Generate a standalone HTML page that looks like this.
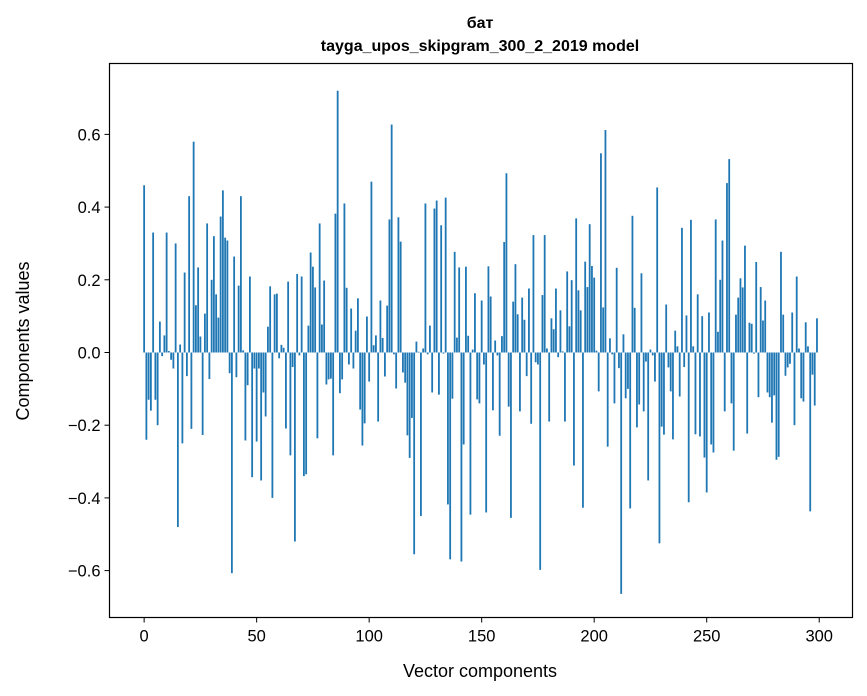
<!DOCTYPE html>
<html><head><meta charset="utf-8"><style>
html,body{margin:0;padding:0;background:#fff;}
svg{display:block;font-family:"Liberation Sans","DejaVu Sans",sans-serif;}
</style></head><body>
<svg id="chart" width="867" height="696" viewBox="0 0 867 696" xmlns="http://www.w3.org/2000/svg">
<rect x="0" y="0" width="867" height="696" fill="#fff"/>
<text x="480" y="28" text-anchor="middle" font-size="16" font-weight="bold">бат</text>
<text x="480" y="51" text-anchor="middle" font-size="16" font-weight="bold">tayga_upos_skipgram_300_2_2019 model</text>
<g id="bars"></g>
<g id="xticks"></g>
<g id="yticks"></g>
<rect x="109.5" y="63.5" width="743" height="554" fill="none" stroke="#000" stroke-width="1.2"/>
<text x="480" y="677" text-anchor="middle" font-size="18">Vector components</text>
<text x="0" y="0" transform="translate(29,341) rotate(-90)" text-anchor="middle" font-size="18">Components values</text>
</svg>
<script>
const values = [0.46,-0.24,-0.13,-0.16,0.33,-0.13,-0.20,0.085,-0.01,0.047,
0.33,0.004,-0.02,-0.044,0.30,-0.48,0.022,-0.25,0.22,-0.065,
0.43,-0.21,0.58,0.13,0.234,0.044,-0.227,0.107,0.355,-0.073,
0.20,0.32,0.16,0.096,0.374,0.446,0.316,0.308,-0.057,-0.607,
0.264,-0.068,0.184,0.43,0.006,-0.242,-0.09,0.209,-0.343,-0.044,
-0.245,-0.044,-0.352,-0.11,-0.176,0.071,0.182,-0.40,0.16,0.162,
-0.016,0.021,0.013,-0.209,0.195,-0.283,-0.04,-0.52,0.216,-0.008,
0.209,-0.34,-0.335,0.074,0.275,0.236,0.179,-0.236,0.355,0.077,
0.198,-0.088,-0.074,-0.072,-0.283,0.382,0.72,-0.112,-0.074,0.41,
0.178,-0.033,0.121,-0.044,0.06,0.149,-0.157,-0.256,-0.195,0.099,
-0.08,0.47,0.02,0.047,-0.19,0.143,0.04,-0.066,0.129,0.366,
0.627,-0.005,-0.099,0.372,0.305,-0.055,-0.083,-0.228,-0.29,-0.18,
-0.555,0.03,0.002,-0.45,0.011,0.41,-0.005,0.074,-0.11,0.396,
0.418,-0.116,0.35,-0.003,0.426,-0.418,-0.569,-0.127,0.277,0.041,
0.234,-0.575,-0.253,0.236,0.046,-0.446,0.008,0.163,-0.129,-0.14,
0.143,-0.033,-0.44,0.237,0.154,-0.159,0.033,-0.008,-0.229,0.045,
0.304,0.493,-0.149,-0.455,0.14,0.243,0.105,-0.162,0.151,0.09,
-0.065,0.176,-0.196,0.323,-0.027,-0.033,-0.598,0.158,0.323,0.011,
-0.19,0.094,0.064,0.176,-0.013,0.116,0.003,-0.19,0.223,0.072,
0.199,-0.311,0.369,0.171,0.116,-0.427,0.25,0.18,0.353,0.238,
0.206,0.005,-0.107,0.548,0.124,0.612,-0.259,0.039,-0.005,-0.14,
0.233,-0.043,-0.664,0.05,-0.126,-0.1,-0.429,0.376,0.123,-0.206,
-0.143,0.218,-0.162,-0.025,-0.352,0.008,-0.008,-0.08,0.454,-0.525,
-0.204,-0.226,0.132,-0.041,-0.107,-0.239,0.06,0.017,-0.121,0.343,
-0.04,0.102,-0.412,0.365,0.017,-0.225,0.16,-0.231,0.1,-0.289,
-0.385,0.11,-0.253,-0.275,0.366,0.057,0.2,0.308,-0.162,0.466,
0.532,-0.14,-0.27,0.104,0.151,0.204,0.179,0.294,-0.223,0.082,
0.079,-0.003,0.249,-0.123,0.18,0.088,0.143,-0.11,-0.123,-0.193,
-0.118,-0.295,-0.287,0.277,0.104,-0.064,-0.041,-0.031,0.11,-0.2,
0.209,0.011,-0.126,-0.135,0.083,0.017,-0.437,-0.061,-0.146,0.094];
const xTickValues = [0,50,100,150,200,250,300];
const xTickLabels = ["0","50","100","150","200","250","300"];
const yTickValues = [-0.6,-0.4,-0.2,0.0,0.2,0.4,0.6];
const yTickLabels = ["\u22120.6","\u22120.4","\u22120.2","0.0","0.2","0.4","0.6"];

const NS="http://www.w3.org/2000/svg";
const L=109.5,R=852.5,T=63.5,B=617.5;
const xMin=-15.39,xMax=314.79,yMin=-0.729,yMax=0.795;
function xs(v){return L+(v-xMin)/(xMax-xMin)*(R-L);}
function ys(v){return B-(v-yMin)/(yMax-yMin)*(B-T);}
const bars=document.getElementById('bars');
values.forEach((v,i)=>{
  const r=document.createElementNS(NS,'rect');
  const x0=xs(i-0.4),x1=xs(i+0.4);
  const y0=ys(Math.max(0,v)),y1=ys(Math.min(0,v));
  r.setAttribute('x',x0);r.setAttribute('width',x1-x0);
  r.setAttribute('y',y0);r.setAttribute('height',Math.max(0,y1-y0));
  r.setAttribute('fill','#1f77b4');
  
  
  bars.appendChild(r);
});
const xg=document.getElementById('xticks');
xTickValues.forEach((v,i)=>{
  const x=xs(v);
  const ln=document.createElementNS(NS,'line');
  ln.setAttribute('x1',x);ln.setAttribute('x2',x);ln.setAttribute('y1',B);ln.setAttribute('y2',B+5);
  ln.setAttribute('stroke','#000');ln.setAttribute('stroke-width','1');
  
  
  xg.appendChild(ln);
  const t=document.createElementNS(NS,'text');
  t.setAttribute('x',x);t.setAttribute('y',B+24);t.setAttribute('text-anchor','middle');t.setAttribute('font-size','16.5');
  t.textContent=xTickLabels[i];
  
  
  xg.appendChild(t);
});
const yg=document.getElementById('yticks');
yTickValues.forEach((v,i)=>{
  const y=ys(v);
  const ln=document.createElementNS(NS,'line');
  ln.setAttribute('x1',L-5);ln.setAttribute('x2',L);ln.setAttribute('y1',y);ln.setAttribute('y2',y);
  ln.setAttribute('stroke','#000');ln.setAttribute('stroke-width','1');
  
  
  yg.appendChild(ln);
  const t=document.createElementNS(NS,'text');
  t.setAttribute('x',L-9);t.setAttribute('y',y+6);t.setAttribute('text-anchor','end');t.setAttribute('font-size','16.5');
  t.textContent=yTickLabels[i];
  
  
  yg.appendChild(t);
});
</script>
</body></html>
